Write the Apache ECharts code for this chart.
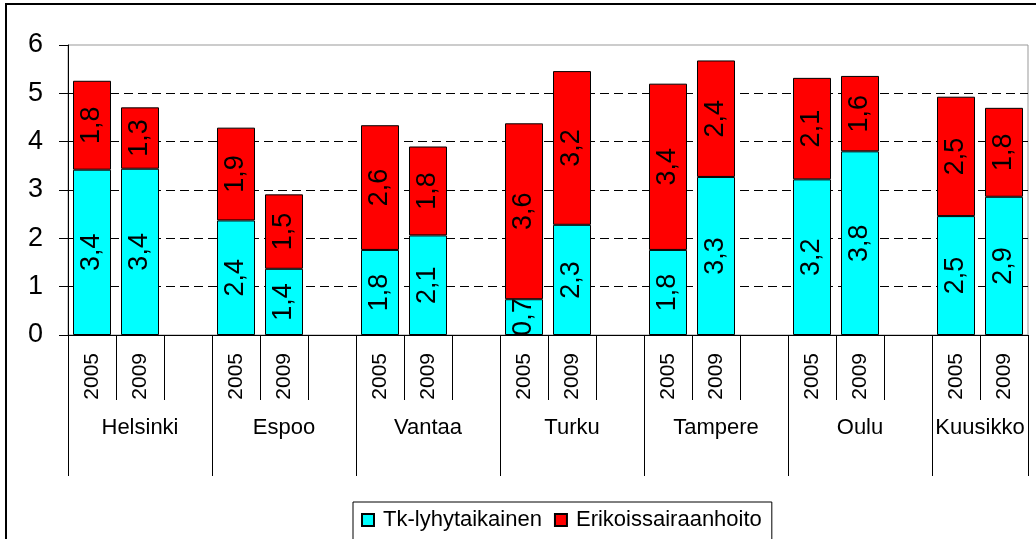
<!DOCTYPE html>
<html>
<head>
<meta charset="utf-8">
<script src="https://cdn.jsdelivr.net/npm/echarts@6/dist/echarts.min.js"></script>
<style>
  html, body { margin: 0; padding: 0; background: #fff; }
  #chart { width: 1036px; height: 539px; }
</style>
</head>
<body>
<div id="chart"></div>
<script>
// kaupungit ja vuodet
var cities = ["Helsinki", "Espoo", "Vantaa", "Turku", "Tampere", "Oulu", "Kuusikko"];
var years = ["2005", "2009"];
// arvot kaupungeittain: 2005, 2009
var tk = [3.42, 3.44, 2.37, 1.37, 1.76, 2.06, 0.74, 2.28, 1.76, 3.27, 3.22, 3.80, 2.46, 2.86];
var erik = [1.84, 1.27, 1.92, 1.54, 2.58, 1.84, 3.64, 3.18, 3.44, 2.41, 2.10, 1.56, 2.47, 1.84];
var yTicks = [0, 1, 2, 3, 4, 5, 6];

var font = "Liberation Sans, Arial, sans-serif";

// rakennetaan kategoriat, väliin tyhjä sarake
var categories = [];
var tkData = [];
var erikData = [];
var cityStart = [];
var k = 0;
cities.forEach(function (c, i) {
  cityStart.push(categories.length);
  years.forEach(function (y) {
    categories.push(y);
    tkData.push(tk[k]);
    erikData.push(erik[k]);
    k++;
  });
  if (i < cities.length - 1) {
    categories.push("");
    tkData.push("-");
    erikData.push("-");
  }
});
// kaupunkiakseli puolikkaan sarakkeen tarkkuudella (kokonaisluvut)
var cityBounds = cityStart.concat([categories.length]).map(function (s) { return s * 2; });
var cityCenters = cities.map(function (c, i) { return (cityBounds[i] + cityBounds[i + 1]) / 2; });

function fmt(p) {
  return p.value.toFixed(1).replace(".", ",");
}

var myChart = echarts.init(document.getElementById("chart"));
var option = {
  animation: false,
  textStyle: { fontFamily: font },
  graphic: [
    {
      type: "rect",
      shape: { x: 6, y: 4, width: 1200, height: 700 },
      style: { fill: "none", stroke: "#000", lineWidth: 2 },
      silent: true
    }
  ],
  grid: {
    left: 68,
    right: 8,
    top: 45,
    bottom: 204,
    show: true,
    borderColor: "#999",
    borderWidth: 1
  },
  legend: {
    left: 353,
    top: 502,
    itemWidth: 12,
    itemHeight: 12,
    itemGap: 12,
    padding: [7, 10, 10, 8],
    borderColor: "#000",
    borderWidth: 1,
    textStyle: { fontSize: 22, color: "#000", fontFamily: font, padding: [0, 0, 0, 4] },
    data: [
      { name: "Tk-lyhytaikainen", icon: "rect" },
      { name: "Erikoissairaanhoito", icon: "rect" }
    ]
  },
  xAxis: [
    {
      type: "category",
      data: categories,
      axisLine: { lineStyle: { color: "#000", width: 1 } },
      axisTick: { show: true, interval: 0, length: 65, lineStyle: { color: "#000" } },
      axisLabel: {
        interval: 0,
        rotate: 90,
        margin: 18,
        fontSize: 21,
        color: "#000",
        fontFamily: font
      },
      splitLine: { show: false }
    },
    {
      type: "value",
      position: "bottom",
      min: 0,
      max: categories.length * 2,
      axisLine: { show: false },
      splitLine: { show: false },
      axisTick: {
        show: true,
        length: 141,
        customValues: cityBounds,
        lineStyle: { color: "#000" }
      },
      axisLabel: {
        show: true,
        margin: 82,
        fontSize: 22,
        color: "#000",
        fontFamily: font,
        customValues: cityCenters,
        formatter: function (v) {
          var i = cityCenters.indexOf(Math.round(v));
          return i >= 0 ? cities[i] : "";
        }
      }
    }
  ],
  yAxis: {
    type: "value",
    min: yTicks[0],
    max: yTicks[yTicks.length - 1],
    interval: 1,
    axisLine: { show: true, lineStyle: { color: "#000" } },
    axisTick: { show: true, length: 9, lineStyle: { color: "#000" } },
    axisLabel: { fontSize: 27, color: "#000", margin: 25, fontFamily: font },
    splitLine: {
      show: true,
      lineStyle: {
        type: [9, 5],
        color: ["#000", "#000", "#000", "#000", "#000", "#000", "rgba(0,0,0,0)"]
      }
    }
  },
  series: [
    {
      name: "Tk-lyhytaikainen",
      type: "bar",
      stack: "a",
      xAxisIndex: 0,
      barWidth: 38,
      data: tkData,
      itemStyle: { color: "#00ffff", borderColor: "#000", borderWidth: 1 },
      label: {
        show: true,
        position: "inside",
        rotate: 90,
        fontSize: 27,
        color: "#000",
        fontFamily: font,
        formatter: fmt
      }
    },
    {
      name: "Erikoissairaanhoito",
      type: "bar",
      stack: "a",
      xAxisIndex: 0,
      barWidth: 38,
      data: erikData,
      itemStyle: { color: "#ff0000", borderColor: "#000", borderWidth: 1 },
      label: {
        show: true,
        position: "inside",
        rotate: 90,
        fontSize: 27,
        color: "#000",
        fontFamily: font,
        formatter: fmt
      }
    }
  ]
};
myChart.setOption(option);
</script>
</body>
</html>
